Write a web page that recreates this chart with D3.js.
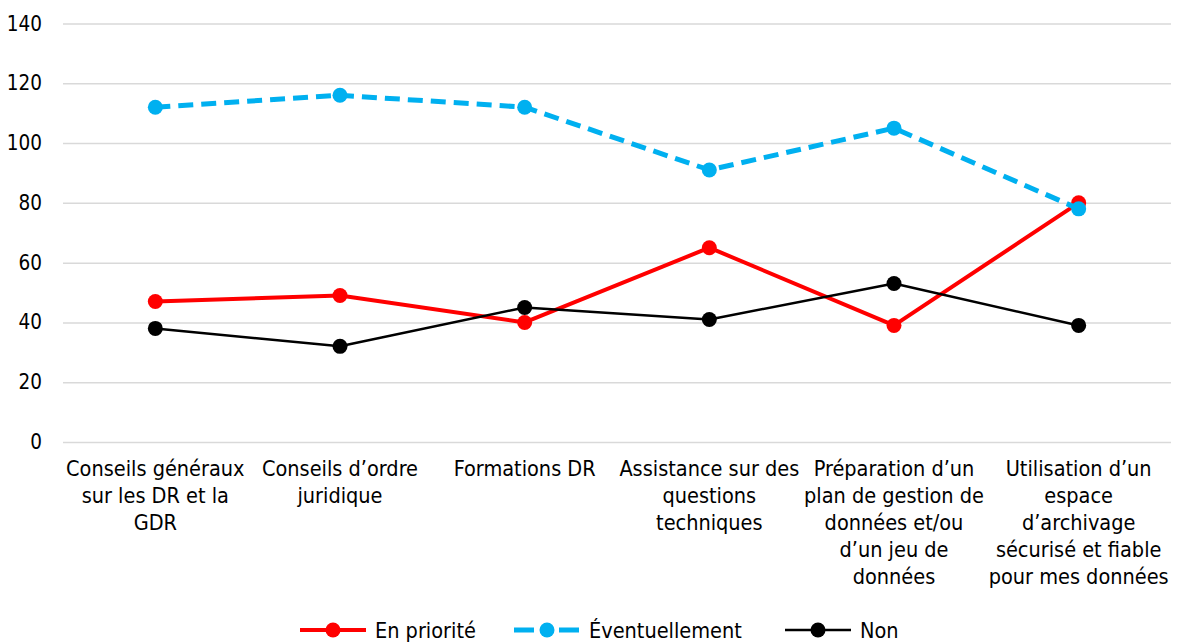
<!DOCTYPE html>
<html>
<head>
<meta charset="utf-8">
<script src="https://cdn.jsdelivr.net/npm/d3@7"></script>
<style>
  html, body { margin: 0; padding: 0; background: #fff; }
  svg { display: block; font-family: "DejaVu Sans Condensed", "DejaVu Sans", sans-serif; }
</style>
</head>
<body>
<svg id="chart" width="1178" height="642"></svg>
<script>
// Category labels (line breaks as drawn under the axis)
const categories = [
  "Conseils généraux\nsur les DR et la\nGDR",
  "Conseils d’ordre\njuridique",
  "Formations DR",
  "Assistance sur des\nquestions\ntechniques",
  "Préparation d’un\nplan de gestion de\ndonnées et/ou\nd’un jeu de\ndonnées",
  "Utilisation d’un\nespace\nd’archivage\nsécurisé et fiable\npour mes données"
];
const enPriorite     = [47, 49, 40, 65, 39, 80];
const eventuellement = [112, 116, 112, 91, 105, 78];
const non            = [38, 32, 45, 41, 53, 39];
const yTicks = [0, 20, 40, 60, 80, 100, 120, 140];
const seriesNames = ["En priorité", "Éventuellement", "Non"];

const series = [
  { name: seriesNames[0], values: enPriorite,     color: "#FF0000", width: 4,   dash: null,    legendDash: null,    r: 7.5 },
  { name: seriesNames[1], values: eventuellement, color: "#00B0F0", width: 5,   dash: "15,8",  legendDash: "20,25", r: 7.5 },
  { name: seriesNames[2], values: non,            color: "#000000", width: 2.5, dash: null,    legendDash: null,    r: 7.5 }
];

const svg = d3.select("#chart");
const plotLeft = 63, plotRight = 1171, plotTop = 23.5, plotBottom = 442;
const labelSize = "21.5px";

const x = d3.scaleBand().domain(d3.range(categories.length)).range([plotLeft, plotRight]);
const y = d3.scaleLinear().domain([0, 140]).range([plotBottom, plotTop]);

// Horizontal gridlines + y tick labels
const yAxis = d3.axisLeft(y).tickValues(yTicks).tickSize(-(plotRight - plotLeft)).tickPadding(21);
const gy = svg.append("g").attr("transform", `translate(${plotLeft},0)`).call(yAxis);
gy.attr("font-family", null).attr("font-size", null);
gy.select(".domain").remove();
gy.selectAll(".tick line").attr("stroke", "#D9D9D9").attr("stroke-width", 1.5);
gy.selectAll(".tick text").attr("fill", "#000").style("font-size", "20.5px");

// Category labels
const gx = svg.append("g");
categories.forEach((c, i) => {
  const lines = c.split("\n");
  const t = gx.append("text")
    .attr("x", x(i) + x.bandwidth() / 2)
    .attr("y", 476)
    .attr("text-anchor", "middle")
    .style("font-size", labelSize)
    .attr("fill", "#000");
  lines.forEach((ln, k) => {
    t.append("tspan").attr("x", x(i) + x.bandwidth() / 2).attr("dy", k === 0 ? 0 : 27).text(ln);
  });
});

const cx = i => x(i) + x.bandwidth() / 2;
const line = d3.line().x((d, i) => cx(i)).y(d => y(d));

series.forEach(s => {
  const g = svg.append("g");
  g.append("path")
    .attr("d", line(s.values))
    .attr("fill", "none")
    .attr("stroke", s.color)
    .attr("stroke-width", s.width)
    .attr("stroke-dasharray", s.dash)
    .attr("stroke-linejoin", "round");
  g.selectAll("circle").data(s.values).join("circle")
    .attr("cx", (d, i) => cx(i))
    .attr("cy", d => y(d))
    .attr("r", s.r)
    .attr("fill", s.color);
});

// Legend
const legendItems = [
  { s: series[0], x0: 300 },
  { s: series[1], x0: 514 },
  { s: series[2], x0: 785 }
];
const ly = 630, keyLen = 66;
legendItems.forEach(({ s, x0 }) => {
  const g = svg.append("g");
  g.append("line")
    .attr("x1", x0).attr("x2", x0 + keyLen)
    .attr("y1", ly).attr("y2", ly)
    .attr("stroke", s.color)
    .attr("stroke-width", s.width)
    .attr("stroke-dasharray", s.legendDash);
  g.append("circle").attr("cx", x0 + keyLen / 2).attr("cy", ly).attr("r", s.r).attr("fill", s.color);
  g.append("text")
    .attr("x", x0 + keyLen + 9).attr("y", ly)
    .attr("dy", "0.35em")
    .style("font-size", labelSize)
    .attr("fill", "#000")
    .text(s.name);
});
</script>
</body>
</html>
